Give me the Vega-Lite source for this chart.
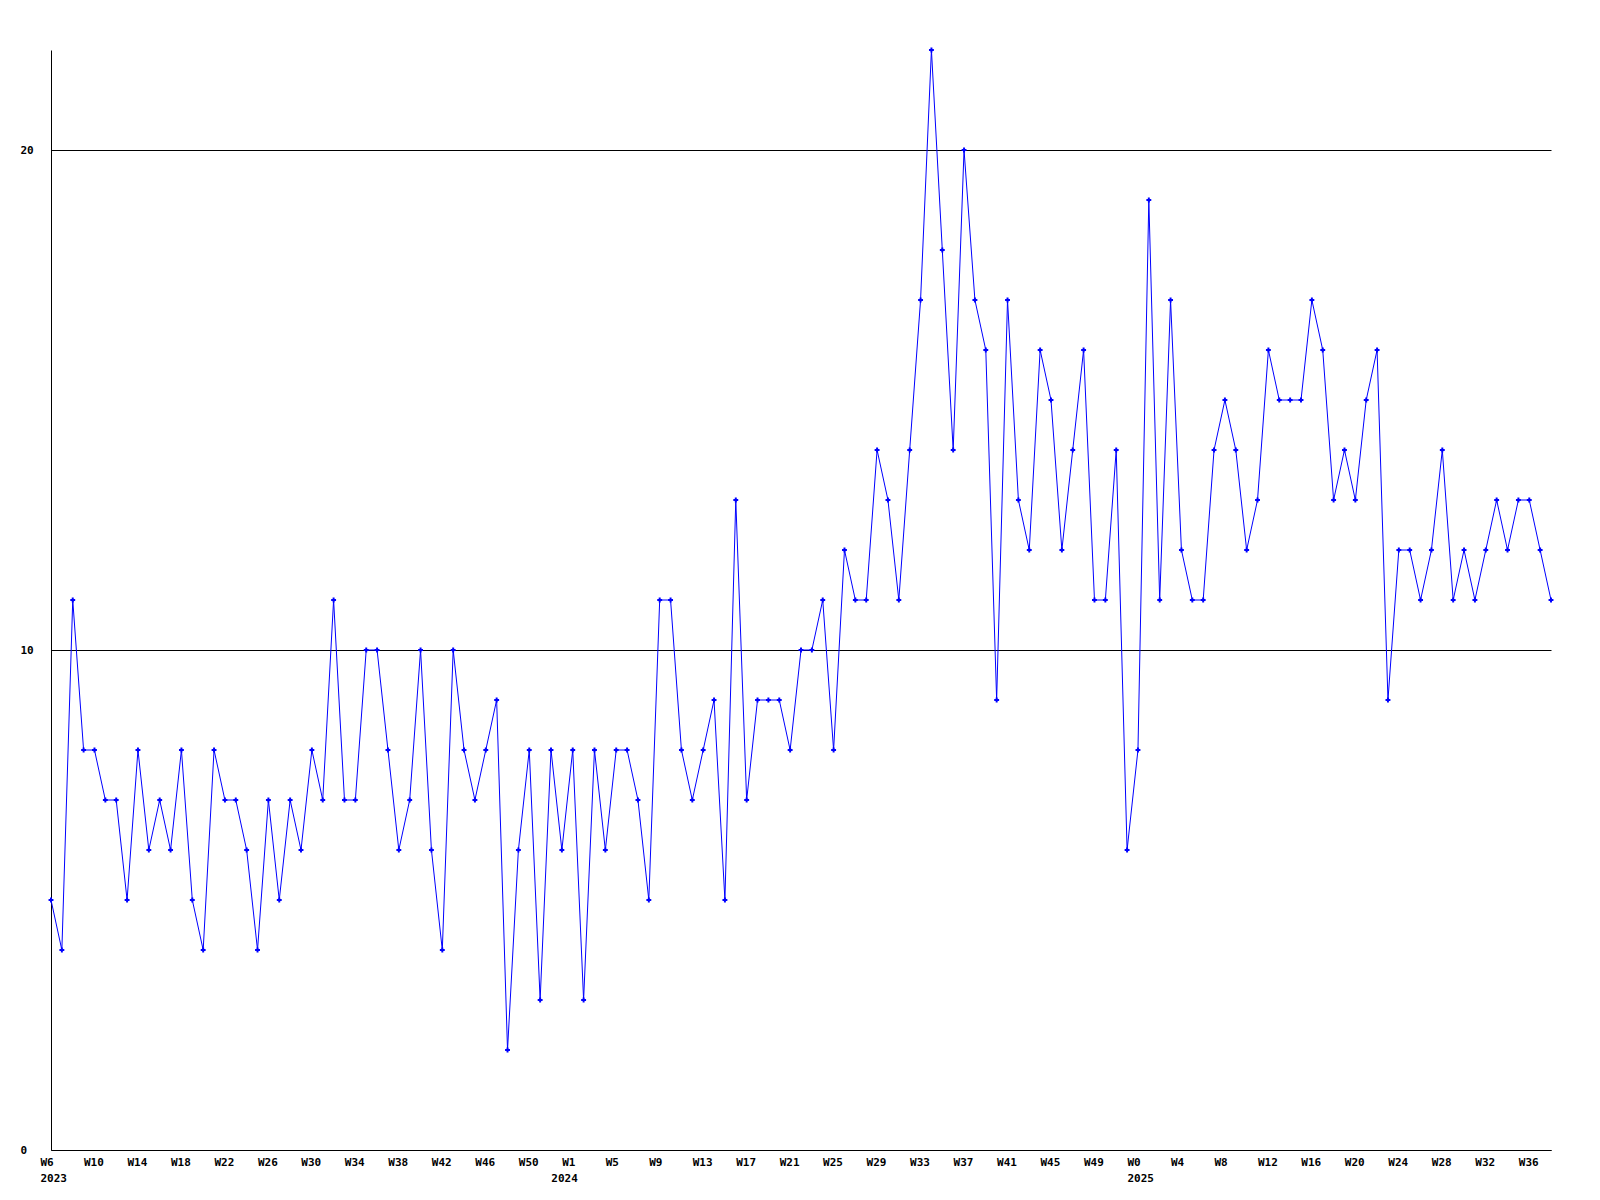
{
  "$schema": "https://vega.github.io/schema/vega-lite/v6.json",
  "width": 1500,
  "height": 1100,
  "autosize": {"type": "none"},
  "padding": {"left": 51, "top": 50, "right": 49, "bottom": 50},
  "background": "white",
  "config": {"view": {"stroke": null}},
  "data": {"values": [
    {"week": "2023-W6", "value": 5}, {"week": "2023-W7", "value": 4}, {"week": "2023-W8", "value": 11}, {"week": "2023-W9", "value": 8},
    {"week": "2023-W10", "value": 8}, {"week": "2023-W11", "value": 7}, {"week": "2023-W12", "value": 7}, {"week": "2023-W13", "value": 5},
    {"week": "2023-W14", "value": 8}, {"week": "2023-W15", "value": 6}, {"week": "2023-W16", "value": 7}, {"week": "2023-W17", "value": 6},
    {"week": "2023-W18", "value": 8}, {"week": "2023-W19", "value": 5}, {"week": "2023-W20", "value": 4}, {"week": "2023-W21", "value": 8},
    {"week": "2023-W22", "value": 7}, {"week": "2023-W23", "value": 7}, {"week": "2023-W24", "value": 6}, {"week": "2023-W25", "value": 4},
    {"week": "2023-W26", "value": 7}, {"week": "2023-W27", "value": 5}, {"week": "2023-W28", "value": 7}, {"week": "2023-W29", "value": 6},
    {"week": "2023-W30", "value": 8}, {"week": "2023-W31", "value": 7}, {"week": "2023-W32", "value": 11}, {"week": "2023-W33", "value": 7},
    {"week": "2023-W34", "value": 7}, {"week": "2023-W35", "value": 10}, {"week": "2023-W36", "value": 10}, {"week": "2023-W37", "value": 8},
    {"week": "2023-W38", "value": 6}, {"week": "2023-W39", "value": 7}, {"week": "2023-W40", "value": 10}, {"week": "2023-W41", "value": 6},
    {"week": "2023-W42", "value": 4}, {"week": "2023-W43", "value": 10}, {"week": "2023-W44", "value": 8}, {"week": "2023-W45", "value": 7},
    {"week": "2023-W46", "value": 8}, {"week": "2023-W47", "value": 9}, {"week": "2023-W48", "value": 2}, {"week": "2023-W49", "value": 6},
    {"week": "2023-W50", "value": 8}, {"week": "2023-W51", "value": 3}, {"week": "2023-W52", "value": 8}, {"week": "2023-W53", "value": 6},
    {"week": "2024-W1", "value": 8}, {"week": "2024-W2", "value": 3}, {"week": "2024-W3", "value": 8}, {"week": "2024-W4", "value": 6},
    {"week": "2024-W5", "value": 8}, {"week": "2024-W6", "value": 8}, {"week": "2024-W7", "value": 7}, {"week": "2024-W8", "value": 5},
    {"week": "2024-W9", "value": 11}, {"week": "2024-W10", "value": 11}, {"week": "2024-W11", "value": 8}, {"week": "2024-W12", "value": 7},
    {"week": "2024-W13", "value": 8}, {"week": "2024-W14", "value": 9}, {"week": "2024-W15", "value": 5}, {"week": "2024-W16", "value": 13},
    {"week": "2024-W17", "value": 7}, {"week": "2024-W18", "value": 9}, {"week": "2024-W19", "value": 9}, {"week": "2024-W20", "value": 9},
    {"week": "2024-W21", "value": 8}, {"week": "2024-W22", "value": 10}, {"week": "2024-W23", "value": 10}, {"week": "2024-W24", "value": 11},
    {"week": "2024-W25", "value": 8}, {"week": "2024-W26", "value": 12}, {"week": "2024-W27", "value": 11}, {"week": "2024-W28", "value": 11},
    {"week": "2024-W29", "value": 14}, {"week": "2024-W30", "value": 13}, {"week": "2024-W31", "value": 11}, {"week": "2024-W32", "value": 14},
    {"week": "2024-W33", "value": 17}, {"week": "2024-W34", "value": 22}, {"week": "2024-W35", "value": 18}, {"week": "2024-W36", "value": 14},
    {"week": "2024-W37", "value": 20}, {"week": "2024-W38", "value": 17}, {"week": "2024-W39", "value": 16}, {"week": "2024-W40", "value": 9},
    {"week": "2024-W41", "value": 17}, {"week": "2024-W42", "value": 13}, {"week": "2024-W43", "value": 12}, {"week": "2024-W44", "value": 16},
    {"week": "2024-W45", "value": 15}, {"week": "2024-W46", "value": 12}, {"week": "2024-W47", "value": 14}, {"week": "2024-W48", "value": 16},
    {"week": "2024-W49", "value": 11}, {"week": "2024-W50", "value": 11}, {"week": "2024-W51", "value": 14}, {"week": "2024-W52", "value": 6},
    {"week": "2025-W0", "value": 8}, {"week": "2025-W1", "value": 19}, {"week": "2025-W2", "value": 11}, {"week": "2025-W3", "value": 17},
    {"week": "2025-W4", "value": 12}, {"week": "2025-W5", "value": 11}, {"week": "2025-W6", "value": 11}, {"week": "2025-W7", "value": 14},
    {"week": "2025-W8", "value": 15}, {"week": "2025-W9", "value": 14}, {"week": "2025-W10", "value": 12}, {"week": "2025-W11", "value": 13},
    {"week": "2025-W12", "value": 16}, {"week": "2025-W13", "value": 15}, {"week": "2025-W14", "value": 15}, {"week": "2025-W15", "value": 15},
    {"week": "2025-W16", "value": 17}, {"week": "2025-W17", "value": 16}, {"week": "2025-W18", "value": 13}, {"week": "2025-W19", "value": 14},
    {"week": "2025-W20", "value": 13}, {"week": "2025-W21", "value": 15}, {"week": "2025-W22", "value": 16}, {"week": "2025-W23", "value": 9},
    {"week": "2025-W24", "value": 12}, {"week": "2025-W25", "value": 12}, {"week": "2025-W26", "value": 11}, {"week": "2025-W27", "value": 12},
    {"week": "2025-W28", "value": 14}, {"week": "2025-W29", "value": 11}, {"week": "2025-W30", "value": 12}, {"week": "2025-W31", "value": 11},
    {"week": "2025-W32", "value": 12}, {"week": "2025-W33", "value": 13}, {"week": "2025-W34", "value": 12}, {"week": "2025-W35", "value": 13},
    {"week": "2025-W36", "value": 13}, {"week": "2025-W37", "value": 12}, {"week": "2025-W38", "value": 11}
  ]},
  "encoding": {
    "x": {
      "field": "week",
      "type": "ordinal",
      "sort": null,
      "scale": {"type": "point", "padding": 0},
      "axis": {
        "title": null,
        "values": ["2023-W6", "2023-W10", "2023-W14", "2023-W18", "2023-W22", "2023-W26", "2023-W30", "2023-W34", "2023-W38", "2023-W42", "2023-W46", "2023-W50", "2023-W53",
                   "2024-W1", "2024-W5", "2024-W9", "2024-W13", "2024-W17", "2024-W21", "2024-W25", "2024-W29", "2024-W33", "2024-W37", "2024-W41", "2024-W45", "2024-W49",
                   "2025-W0", "2025-W4", "2025-W8", "2025-W12", "2025-W16", "2025-W20", "2025-W24", "2025-W28", "2025-W32", "2025-W36"],
        "labelExpr": "datum.value == '2023-W53' ? ['', '2024'] : (indexof(['2023-W6','2025-W0'], datum.value) >= 0 ? [split(datum.value,'-')[1], split(datum.value,'-')[0]] : split(datum.value,'-')[1])",
        "labelAngle": 0,
        "labelAlign": "left",
        "labelOffset": -11,
        "labelPadding": 6,
        "labelLineHeight": 16,
        "labelFont": "DejaVu Sans Mono",
        "labelFontWeight": "bold",
        "labelFontSize": 11,
        "labelColor": "black",
        "ticks": false,
        "tickSize": 0,
        "domainColor": "black",
        "domainWidth": 1,
        "grid": false,
        "labelOverlap": false
      }
    },
    "y": {
      "field": "value",
      "type": "quantitative",
      "scale": {"domain": [0, 22], "nice": false, "zero": true},
      "axis": {
        "title": null,
        "values": [0, 10, 20],
        "grid": true,
        "gridColor": "black",
        "gridOpacity": 1,
        "gridWidth": 1,
        "ticks": false,
        "tickSize": 0,
        "domainColor": "black",
        "domainWidth": 1,
        "labelAlign": "left",
        "labelPadding": 31,
        "labelFont": "DejaVu Sans Mono",
        "labelFontWeight": "bold",
        "labelFontSize": 11,
        "labelColor": "black"
      }
    }
  },
  "layer": [
    {"mark": {"type": "line", "color": "#0000ff", "strokeWidth": 1}},
    {"mark": {"type": "point", "shape": "cross", "filled": true, "color": "#0000ff", "size": 24, "opacity": 1}}
  ]
}
